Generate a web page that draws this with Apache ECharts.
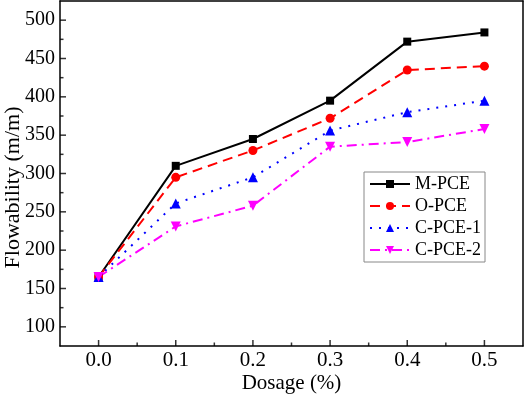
<!DOCTYPE html>
<html>
<head>
<meta charset="utf-8">
<script src="https://cdn.jsdelivr.net/npm/echarts@6/dist/echarts.min.js"></script>
<style>
  html, body { margin: 0; padding: 0; background: #fff; }
  #chart { width: 526px; height: 396px; }
</style>
</head>
<body>
<div id="chart"></div>
<script>
// dosage (%) on x
const dosage = [0.0, 0.1, 0.2, 0.3, 0.4, 0.5]
const seriesNames = ['M-PCE', 'O-PCE', 'C-PCE-1', 'C-PCE-2']
const mPce = [165, 310, 345, 395, 472, 484]
const oPce = [165, 295, 330, 372, 435, 440]
const cPce1 = [165, 261, 295, 356, 380, 395]
const cPce2 = [165, 231, 258, 335, 341, 358]
const yMajor = [100, 150, 200, 250, 300, 350, 400, 450, 500]
const yMinor = [125, 175, 225, 275, 325, 375, 425, 475]
const xMajor = [0, 0.1, 0.2, 0.3, 0.4, 0.5]
const xMinor = [0.05, 0.15, 0.25, 0.35, 0.45]
const xRange = [-0.05, 0.55]
const yRange = [75, 525]

const font = 'Liberation Serif'
const black = '#000'

function pairs(vals) {
  return vals.map((v, i) => [dosage[i], v])
}

const chart = echarts.init(document.getElementById('chart'))

// inward tick marks, drawn as thin rect symbols on the axis edges
const tickMarks = (data, size, offset) => ({
  type: 'scatter',
  data: data,
  symbol: 'rect',
  symbolSize: size,
  symbolOffset: offset,
  itemStyle: { color: black },
  silent: true,
  clip: false,
  z: 5
})

// top / right frame lines
const frame = pos => ({
  type: 'value', position: pos, min: 0, max: 1,
  axisLine: { show: true, onZero: false, lineStyle: { color: black, width: 1.5 } },
  axisTick: { show: false },
  axisLabel: { show: false },
  splitLine: { show: false }
})

const option = {
  animation: false,
  grid: {
    left: 60, right: 3, top: 1, bottom: 50,
    outerBoundsMode: 'none'
  },
  legend: {
    orient: 'vertical',
    left: 364,
    top: 172,
    data: seriesNames,
    itemWidth: 40,
    itemHeight: 10,
    itemGap: 4,
    padding: [3, 4, 3, 5],
    borderColor: '#888',
    borderWidth: 1,
    backgroundColor: '#fff',
    textStyle: { fontFamily: font, fontSize: 18, color: black }
  },
  xAxis: [
    {
      type: 'value',
      position: 'bottom',
      min: xRange[0],
      max: xRange[1],
      name: 'Dosage (%)',
      nameLocation: 'middle',
      nameGap: 27,
      nameMoveOverlap: false,
      nameTextStyle: { fontFamily: font, fontSize: 21, color: black },
      axisLine: { show: true, onZero: false, lineStyle: { color: black, width: 1.5 } },
      axisTick: { show: false },
      axisLabel: {
        fontFamily: font, fontSize: 21, color: black, margin: 4,
        customValues: xMajor,
        formatter: v => v.toFixed(1)
      },
      splitLine: { show: false }
    },
    frame('top')
  ],
  yAxis: [
    {
      type: 'value',
      position: 'left',
      min: yRange[0],
      max: yRange[1],
      name: 'Flowability (m/m)',
      nameLocation: 'middle',
      nameGap: 36,
      nameMoveOverlap: false,
      nameTextStyle: { fontFamily: font, fontSize: 22, color: black, padding: [0, 28, 0, 0] },
      axisLine: { show: true, onZero: false, lineStyle: { color: black, width: 1.5 } },
      axisTick: { show: false },
      axisLabel: { fontFamily: font, fontSize: 20, color: black, margin: 5, customValues: yMajor },
      splitLine: { show: false }
    },
    frame('right')
  ],
  series: [
    {
      name: 'M-PCE', type: 'line', data: pairs(mPce),
      symbol: 'rect', symbolSize: 8,
      itemStyle: { color: black },
      lineStyle: { color: black, width: 2, type: 'solid' }
    },
    {
      name: 'O-PCE', type: 'line', data: pairs(oPce),
      symbol: 'circle', symbolSize: 9,
      itemStyle: { color: '#ff0000' },
      lineStyle: { color: '#ff0000', width: 2, type: [10, 6] }
    },
    {
      name: 'C-PCE-1', type: 'line', data: pairs(cPce1),
      symbol: 'triangle', symbolSize: 10,
      itemStyle: { color: '#0000ff' },
      lineStyle: { color: '#0000ff', width: 2, type: [2, 7] }
    },
    {
      name: 'C-PCE-2', type: 'line', data: pairs(cPce2),
      symbol: 'triangle', symbolSize: 10, symbolRotate: 180,
      itemStyle: { color: '#ff00ff' },
      lineStyle: { color: '#ff00ff', width: 2, type: [10, 5, 2, 5] }
    },
    tickMarks(yMajor.map(v => [xRange[0], v]), [6, 1.5], [3, 0]),
    tickMarks(yMinor.map(v => [xRange[0], v]), [3.5, 1.5], [1.75, 0]),
    tickMarks(xMajor.map(v => [v, yRange[0]]), [1.5, 6], [0, -3]),
    tickMarks(xMinor.map(v => [v, yRange[0]]), [1.5, 3.5], [0, -1.75])
  ]
}

chart.setOption(option)
</script>
</body>
</html>
